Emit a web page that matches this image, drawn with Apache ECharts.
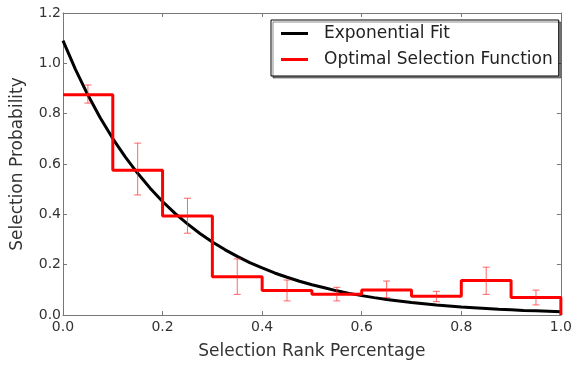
<!DOCTYPE html>
<html>
<head>
<meta charset="utf-8">
<script src="https://cdn.jsdelivr.net/npm/echarts@6/dist/echarts.min.js"></script>
<style>html,body{margin:0;padding:0;background:#fff;}#c{width:575px;height:365px;}</style>
</head>
<body>
<div id="c"></div>
<script>
// Exponential fit curve at steps of 0.025
var fitX = [0,0.025,0.05,0.075,0.1,0.125,0.15,0.175,0.2,0.225,0.25,0.275,0.3,0.325,0.35,0.375,0.4,0.425,0.45,0.475,0.5,0.525,0.55,0.575,0.6,0.625,0.65,0.675,0.7,0.725,0.75,0.775,0.8,0.825,0.85,0.875,0.9,0.925,0.95,0.975,1.0];
var fitY = [1.090,0.976,0.874,0.783,0.701,0.628,0.563,0.504,0.451,0.404,0.362,0.324,0.290,0.260,0.233,0.208,0.187,0.167,0.150,0.134,0.120,0.108,0.096,0.086,0.077,0.069,0.062,0.056,0.050,0.045,0.040,0.036,0.032,0.029,0.026,0.023,0.021,0.018,0.017,0.015,0.013];
// Optimal selection function (histogram bins)
var binEdges = [0,0.1,0.2,0.3,0.4,0.5,0.6,0.7,0.8,0.9,1.0];
var binValues = [0.875,0.575,0.393,0.152,0.097,0.082,0.099,0.075,0.137,0.070];
// Error bars at bin centres
var errX = [0.05,0.15,0.25,0.35,0.45,0.55,0.65,0.75,0.85,0.95];
var errLow = [0.842,0.477,0.325,0.082,0.056,0.056,0.069,0.053,0.082,0.040];
var errHigh = [0.914,0.683,0.464,0.223,0.139,0.110,0.135,0.094,0.190,0.099];
var xTicks = [0,0.2,0.4,0.6,0.8,1.0];
var yTicks = [0,0.2,0.4,0.6,0.8,1.0,1.2];

var FONT = 'DejaVu Sans';
var fitData = fitX.map(function(x,i){return [x,fitY[i]];});
var stepData = [];
for (var i=0;i<binValues.length;i++){
  stepData.push([binEdges[i],binValues[i]]);
  stepData.push([binEdges[i+1],binValues[i]]);
}
stepData.push([binEdges[binEdges.length-1],0]);
var errData = errX.map(function(x,i){return [x,errLow[i],errHigh[i]];});

var axisCol = '#777';
function fmt(v){return v.toFixed(1);}
var chart = echarts.init(document.getElementById('c'), null, {renderer:'canvas'});
chart.setOption({
  animation:false,
  backgroundColor:'#fff',
  grid:{left:63,right:9,top:13,bottom:48,containLabel:false},
  legend:{
    orient:'vertical',
    left:271, top:20,
    data:[{name:'Exponential Fit'},{name:'Optimal Selection Function'}],
    icon:'rect',
    itemWidth:27, itemHeight:3, itemGap:9,
    padding:[5,6,8,10],
    backgroundColor:'#fff',
    borderColor:'#000', borderWidth:1, borderRadius:0,
    shadowColor:'rgba(0,0,0,0.45)', shadowOffsetX:2, shadowOffsetY:2, shadowBlur:0,
    textStyle:{fontFamily:FONT,fontSize:17,color:'#222',padding:[0,0,0,11]}
  },
  xAxis:[{
    type:'value', min:0, max:1, interval:0.2,
    name:'Selection Rank Percentage', nameLocation:'middle', nameGap:28,
    nameTextStyle:{fontFamily:FONT,fontSize:17,color:'#333'},
    axisLine:{show:true,onZero:false,lineStyle:{color:axisCol,width:1}},
    axisTick:{show:true,inside:true,length:4,lineStyle:{color:axisCol}},
    axisLabel:{fontFamily:FONT,fontSize:14,color:'#333',margin:5,formatter:fmt},
    splitLine:{show:false}
  },{
    type:'value', min:0, max:1, interval:0.2, position:'top',
    axisLine:{show:true,onZero:false,lineStyle:{color:axisCol,width:1}},
    axisTick:{show:true,inside:true,length:4,lineStyle:{color:axisCol}},
    axisLabel:{show:false}, splitLine:{show:false}
  }],
  yAxis:[{
    type:'value', min:0, max:1.2, interval:0.2,
    name:'Selection Probability', nameLocation:'middle', nameGap:37,
    nameTextStyle:{fontFamily:FONT,fontSize:17,color:'#333'},
    axisLine:{show:true,onZero:false,lineStyle:{color:axisCol,width:1}},
    axisTick:{show:true,inside:true,length:4,lineStyle:{color:axisCol}},
    axisLabel:{fontFamily:FONT,fontSize:14,color:'#333',margin:2,formatter:fmt},
    splitLine:{show:false}
  },{
    type:'value', min:0, max:1.2, interval:0.2, position:'right',
    axisLine:{show:true,onZero:false,lineStyle:{color:axisCol,width:1}},
    axisTick:{show:true,inside:true,length:4,lineStyle:{color:axisCol}},
    axisLabel:{show:false}, splitLine:{show:false}
  }],
  series:[{
    name:'Exponential Fit', type:'line', data:fitData, showSymbol:false,
    smooth:false,
    lineStyle:{color:'#000',width:3}, itemStyle:{color:'#000'}, z:2
  },{
    name:'Optimal Selection Function', type:'line', data:stepData, showSymbol:false,
    lineStyle:{color:'#ff0000',width:3}, itemStyle:{color:'#ff0000'}, z:3
  },{
    name:'err', type:'custom', data:errData, z:4,
    renderItem:function(params,api){
      var x=api.value(0);
      var lo=api.coord([x,api.value(1)]);
      var hi=api.coord([x,api.value(2)]);
      var c=3.5;
      var st={stroke:'rgba(255,40,40,0.7)',lineWidth:1};
      return {type:'group',children:[
        {type:'line',shape:{x1:lo[0],y1:lo[1],x2:hi[0],y2:hi[1]},style:st},
        {type:'line',shape:{x1:lo[0]-c,y1:lo[1],x2:lo[0]+c,y2:lo[1]},style:st},
        {type:'line',shape:{x1:hi[0]-c,y1:hi[1],x2:hi[0]+c,y2:hi[1]},style:st}
      ]};
    }
  }]
});
</script>
</body>
</html>
